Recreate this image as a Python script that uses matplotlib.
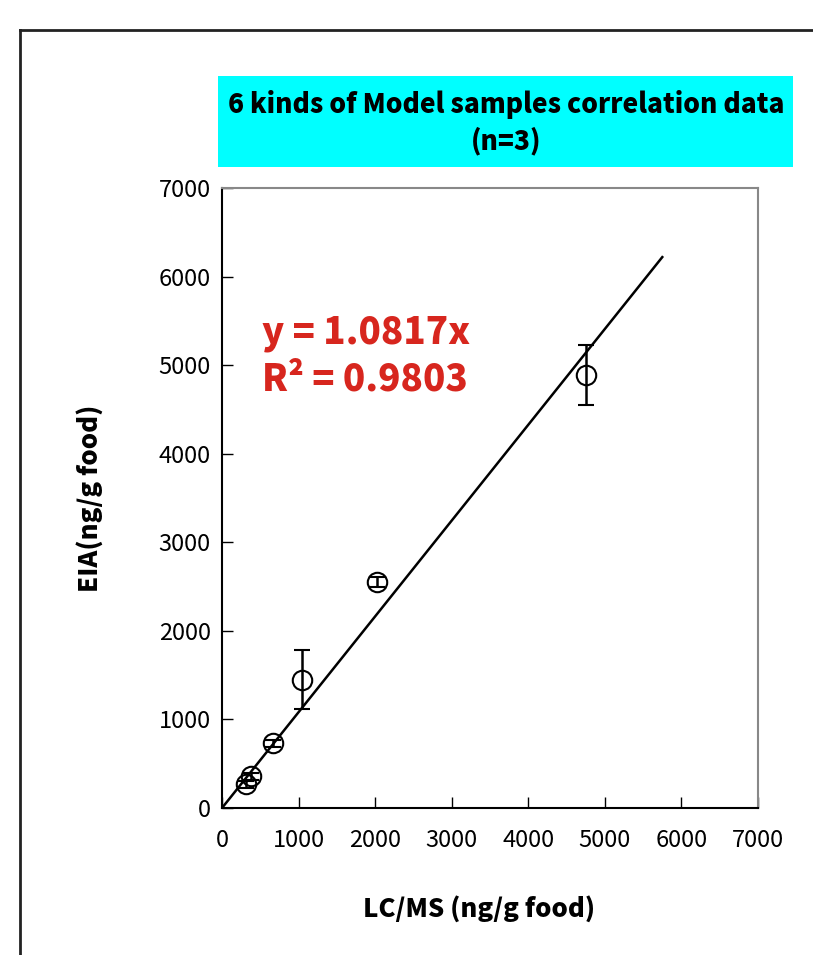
import matplotlib.pyplot as plt
from matplotlib.lines import Line2D
from matplotlib.patches import Rectangle

# LC/MS vs EIA values for the 6 model samples (n=3)
lcms = [310, 380, 670, 1040, 2020, 4750]
eia = [270, 360, 730, 1450, 2550, 4890]
eia_err = [40, 40, 40, 330, 60, 340]

slope = 1.0817
line_x = [0, 5750]
line_y = [slope * v for v in line_x]

ticks = [0, 1000, 2000, 3000, 4000, 5000, 6000, 7000]

W, H = 813, 955
fig = plt.figure(figsize=(W / 100, H / 100), dpi=100)

font = ['Noto Sans CJK JP', 'DejaVu Sans']

# outer frame (cut off at right and bottom)
fig.add_artist(Line2D([20 / W, 1], [1 - 30 / H, 1 - 30 / H], color='#222222', lw=2, transform=fig.transFigure))
fig.add_artist(Line2D([20 / W, 20 / W], [0, 1 - 30 / H], color='#222222', lw=2, transform=fig.transFigure))

# title box
fig.add_artist(Rectangle((218 / W, 1 - 167 / H), 575 / W, 91 / H, facecolor='#00ffff',
                         edgecolor='none', transform=fig.transFigure))
fig.text(506 / W, 1 - 123 / H, '6 kinds of Model samples correlation data\n(n=3)',
         ha='center', va='center', fontsize=19, fontweight='heavy', family=font, linespacing=1.35)

ax = fig.add_axes([222 / W, 1 - 808 / H, 536 / W, 620 / H])
ax.plot(line_x, line_y, color='black', lw=1.8)
ax.errorbar(lcms, eia, yerr=eia_err, fmt='o', mfc='none', mec='black', ms=14, mew=1.5,
            ecolor='black', elinewidth=1.8, capsize=6, capthick=1.8)

ax.set_xlim(0, 7000)
ax.set_ylim(0, 7000)
ax.set_xticks(ticks)
ax.set_yticks(ticks)
ax.tick_params(direction='in', length=8, width=1, labelsize=17, pad=8)
ax.tick_params(axis='x', pad=15)
for lab in ax.get_xticklabels() + ax.get_yticklabels():
    lab.set_family(font)
ax.spines['left'].set_color('black')
ax.spines['bottom'].set_color('black')
ax.spines['top'].set_color('#888888')
ax.spines['right'].set_color('#888888')
for s in ax.spines.values():
    s.set_linewidth(1.5)

ax.set_xlabel('LC/MS (ng/g food)', fontsize=18.5, fontweight='heavy', family=font)
ax.set_ylabel('EIA(ng/g food)', fontsize=18.5, fontweight='heavy', family=font)
ax.xaxis.set_label_coords(0.48, (808 - 895) / 620, transform=ax.transAxes)
ax.yaxis.set_label_coords((103 - 222) / 536, 0.5, transform=ax.transAxes)

ax.text(0.075, 0.729, 'y = 1.0817x\nR² = 0.9803', transform=ax.transAxes, color='#d7261e',
        fontsize=26.5, fontweight='heavy', family=font, va='center', ha='left', linespacing=1.3)

fig.savefig('out.png', dpi=100)
